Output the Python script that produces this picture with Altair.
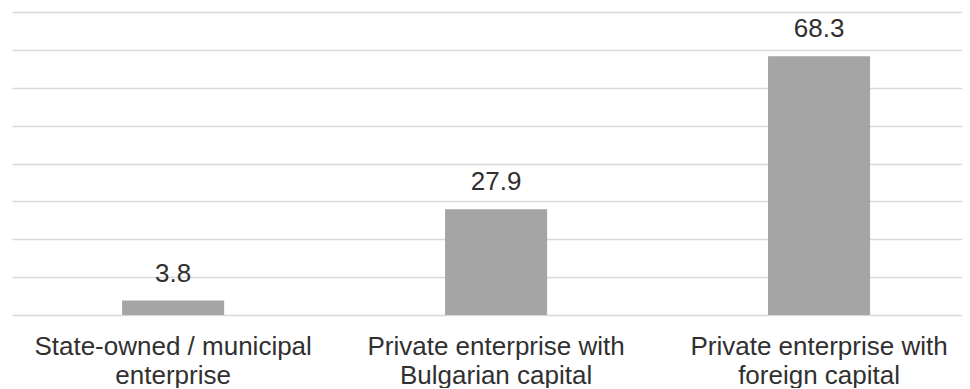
import altair as alt
import pandas as pd

categories = [
    "State-owned / municipal|enterprise",
    "Private enterprise with|Bulgarian capital",
    "Private enterprise with|foreign capital",
]
values = [3.8, 27.9, 68.3]
value_labels = ["3.8", "27.9", "68.3"]

df = pd.DataFrame({"cat": categories, "val": values, "lbl": value_labels})

FONT = "Liberation Sans"
TXT = "#303030"

x = alt.X(
    "cat:N",
    sort=None,
    title=None,
    scale=alt.Scale(paddingInner=0.684, paddingOuter=0.3127, align=0.545),
    axis=alt.Axis(
        labelExpr="split(datum.label, '|')",
        labelAngle=0,
        labelFont=FONT,
        labelFontSize=26,
        labelColor=TXT,
        labelLineHeight=29,
        labelPadding=18,
        labelBaseline="top",
        labelLimit=500,
        ticks=False,
        tickSize=0,
        domain=False,
        grid=False,
    ),
)
y = alt.Y(
    "val:Q",
    title=None,
    scale=alt.Scale(domain=[0, 80], nice=False),
    axis=alt.Axis(
        values=[0, 10, 20, 30, 40, 50, 60, 70, 80],
        labels=False,
        ticks=False,
        domain=False,
        grid=True,
        gridColor="#d9d9d9",
        gridWidth=1.3,
    ),
)

bars = alt.Chart(df).mark_bar(color="#a5a5a5").encode(x=x, y=y)
text = alt.Chart(df).mark_text(
    font=FONT, fontSize=26, color=TXT, baseline="alphabetic", dy=-19
).encode(x=x, y=y, text="lbl:N")

chart = (
    alt.layer(bars, text)
    .properties(width=950, height=303, padding={"left": 4, "top": 4, "right": 0, "bottom": 0})
    .configure_view(stroke=None)
)

chart.save("out.html", embed_options={"renderer": "svg", "actions": False})
